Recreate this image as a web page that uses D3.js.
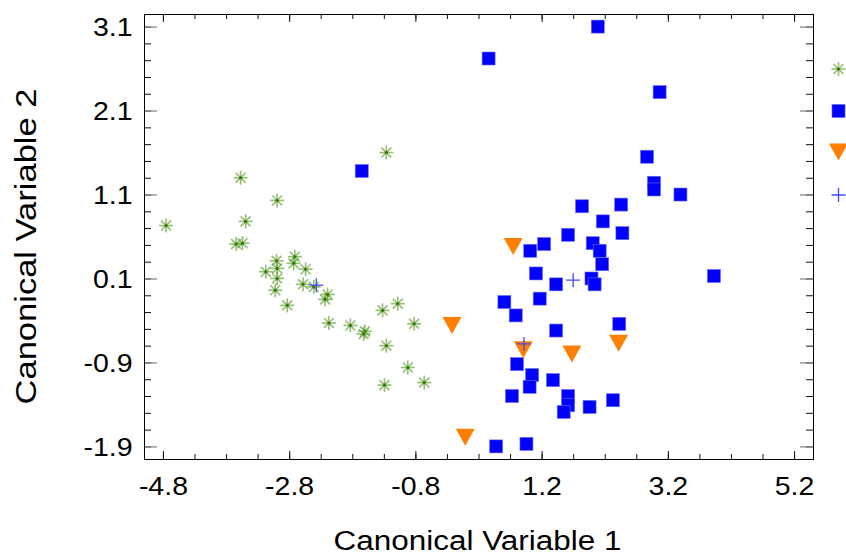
<!DOCTYPE html>
<html>
<head>
<meta charset="utf-8">
<script src="https://cdn.jsdelivr.net/npm/d3@7"></script>
<style>
  body { margin: 0; background: #fff; }
  text { font-family: "Liberation Sans", Arial, sans-serif; }
</style>
</head>
<body>
<div id="chart"></div>
<script>
// group 1 (asterisks)
var g1x = [-1.26, -3.57, -2.99, -4.75, -3.49, -3.64, -3.54, -3.00, -2.71, -2.73, -2.99, -3.17, -2.54, -2.99, -2.58, -2.41,
           -3.02, -2.19, -2.23, -2.83, -2.17, -1.83, -1.60, -1.62, -1.32, -1.08, -0.82, -1.26, -0.92, -1.29, -0.66];
var g1y = [1.60, 1.30, 1.03, 0.73, 0.78, 0.51, 0.52, 0.31, 0.36, 0.28, 0.22, 0.18, 0.21, 0.10, 0.03, 0.00,
           -0.04, -0.09, -0.15, -0.22, -0.43, -0.46, -0.53, -0.56, -0.28, -0.20, -0.44, -0.70, -0.96, -1.17, -1.14];
// group 2 (squares)
var g2x = [0.36, 2.09, 3.07, 2.87, 2.98, 2.98, 3.40, -1.65, 1.84, 2.46, 2.17, 2.48, 1.62, 1.24, 1.02, 2.01, 2.12, 2.16,
           1.11, 1.43, 1.99, 2.04, 3.93, 1.17, 0.61, 0.79, 2.43, 1.43, 0.81, 1.05, 1.01, 1.38, 0.73, 1.62, 1.62, 1.55,
           1.96, 2.33, 0.48, 0.96];
var g2y = [2.72, 3.10, 2.32, 1.55, 1.24, 1.16, 1.10, 1.38, 0.96, 0.98, 0.78, 0.64, 0.62, 0.51, 0.43, 0.52, 0.43, 0.27,
           0.16, 0.03, 0.10, 0.03, 0.13, -0.14, -0.18, -0.34, -0.44, -0.52, -0.92, -1.05, -1.19, -1.11, -1.30, -1.30, -1.41, -1.49,
           -1.43, -1.35, -1.90, -1.87];
// group 3 (triangles)
var g3x = [0.75, -0.22, 0.91, 1.68, 2.42, -0.01];
var g3y = [0.48, -0.46, -0.75, -0.80, -0.67, -1.79];
// group 4 (plus)
var g4x = [-2.37, 1.70, 0.92];
var g4y = [0.02, 0.08, -0.68];

var xTicks = [-4.8, -2.8, -0.8, 1.2, 3.2, 5.2];
var yTicks = [3.1, 2.1, 1.1, 0.1, -0.9, -1.9];

var margin = {top: 14, left: 144},
    width = 669,
    height = 445;

var svg = d3.select("#chart")
  .append("svg")
    .attr("width", 846)
    .attr("height", 555);

var g = svg.append("g")
    .attr("transform", "translate(" + margin.left + "," + margin.top + ")");

var x = d3.scaleLinear().domain([-5.1, 5.5]).range([0, width]);
var y = d3.scaleLinear().domain([-2.05, 3.25]).range([height, 0]);

var xMinor = d3.range(-5.3, 5.6, 0.5).filter(function(d) { return d > -5.1 && d < 5.5; });
var yMinor = d3.range(-2.1, 3.3, 0.2).filter(function(d) { return d > -2.05 && d < 3.25; });

function fmt(d) { return d.toFixed(1); }

// minor ticks
g.append("g").attr("class", "minor").attr("transform", "translate(0," + height + ")")
  .call(d3.axisBottom(x).tickValues(xMinor).tickSize(-5).tickFormat(""));
g.append("g").attr("class", "minor")
  .call(d3.axisTop(x).tickValues(xMinor).tickSize(-5).tickFormat(""));
g.append("g").attr("class", "minor")
  .call(d3.axisLeft(y).tickValues(yMinor).tickSize(-7).tickFormat(""));
g.append("g").attr("class", "minor").attr("transform", "translate(" + width + ",0)")
  .call(d3.axisRight(y).tickValues(yMinor).tickSize(-7).tickFormat(""));

// major ticks
var xb = g.append("g").attr("class", "major").attr("transform", "translate(0," + height + ")")
  .call(d3.axisBottom(x).tickValues(xTicks).tickSize(-8).tickFormat(fmt));
g.append("g").attr("class", "major")
  .call(d3.axisTop(x).tickValues(xTicks).tickSize(-8).tickFormat(""));
var yl = g.append("g").attr("class", "major ymaj")
  .call(d3.axisLeft(y).tickValues(yTicks).tickSize(-13).tickFormat(fmt));
g.append("g").attr("class", "major ymaj").attr("transform", "translate(" + width + ",0)")
  .call(d3.axisRight(y).tickValues(yTicks).tickSize(-13).tickFormat(""));

g.selectAll(".domain").remove();
g.selectAll(".tick line").attr("stroke", "#111");
g.selectAll(".ymaj .tick line").attr("stroke", "#888").attr("stroke-width", 1.3);

xb.selectAll("text")
  .attr("y", 36).attr("dy", null)
  .attr("transform", "scale(1.14,1)")
  .style("font-size", "25px").attr("fill", "#000");
yl.selectAll("text")
  .attr("x", -10).attr("dy", "0.36em")
  .attr("transform", "scale(1.14,1)")
  .style("font-size", "25px").attr("fill", "#000");

// frame
g.append("rect")
  .attr("x", 0.5).attr("y", 0.5)
  .attr("width", width).attr("height", height)
  .attr("fill", "none").attr("stroke", "#000");

// markers
function asterisk(sel, r) {
  [0, 45, 90, 135].forEach(function(a) {
    var rad = a * Math.PI / 180;
    sel.append("line")
      .attr("x1", -r * Math.cos(rad)).attr("y1", -r * Math.sin(rad))
      .attr("x2", r * Math.cos(rad)).attr("y2", r * Math.sin(rad))
      .attr("stroke", "#5a9a2a").attr("stroke-width", 1.6).attr("stroke-opacity", 0.65);
  });
  sel.append("circle").attr("r", 1.5).attr("fill", "#2f7a00");
}
function square(sel) {
  sel.append("rect").attr("x", -6.5).attr("y", -6.5).attr("width", 13).attr("height", 13)
    .attr("fill", "#0000ff").attr("stroke", "#6a6aff").attr("stroke-width", 0.6);
}
function triangle(sel) {
  sel.append("path").attr("d", "M-9.5,-8.5L9.5,-8.5L0,8.5Z").attr("fill", "#ff8000");
}
function plus(sel) {
  sel.append("path").attr("d", "M-7,0H7M0,-7V7")
    .attr("stroke", "#4545ff").attr("stroke-width", 1.3).attr("fill", "none");
}

var plot = g.append("g");
plot.selectAll(".g1").data(d3.range(g1x.length)).enter().append("g")
  .attr("transform", function(i) { return "translate(" + x(g1x[i]) + "," + y(g1y[i]) + ")"; })
  .each(function() { asterisk(d3.select(this), 7); });
plot.selectAll(".g2").data(d3.range(g2x.length)).enter().append("g")
  .attr("transform", function(i) { return "translate(" + x(g2x[i]) + "," + y(g2y[i]) + ")"; })
  .each(function() { square(d3.select(this)); });
plot.selectAll(".g3").data(d3.range(g3x.length)).enter().append("g")
  .attr("transform", function(i) { return "translate(" + x(g3x[i]) + "," + y(g3y[i]) + ")"; })
  .each(function() { triangle(d3.select(this)); });
plot.selectAll(".g4").data(d3.range(g4x.length)).enter().append("g")
  .attr("transform", function(i) { return "translate(" + x(g4x[i]) + "," + y(g4y[i]) + ")"; })
  .each(function() { plus(d3.select(this)); });

// legend symbols (labels fall outside the picture)
var legendY = [69, 111, 152, 195];
var drawers = [function(s) { asterisk(s, 7); }, square, triangle, plus];
legendY.forEach(function(ly, i) {
  var lg = svg.append("g").attr("transform", "translate(838.5," + ly + ")");
  drawers[i](lg);
});

// axis titles
svg.append("text")
  .attr("x", 477.5).attr("y", 550)
  .attr("text-anchor", "middle")
  .attr("textLength", 288).attr("lengthAdjust", "spacingAndGlyphs")
  .style("font-size", "27px")
  .text("Canonical Variable 1");
svg.append("text")
  .attr("transform", "translate(36,246.5) rotate(-90)")
  .attr("text-anchor", "middle")
  .attr("textLength", 316).attr("lengthAdjust", "spacingAndGlyphs")
  .style("font-size", "30px")
  .text("Canonical Variable 2");

console.log("scatter done");
</script>
</body>
</html>
